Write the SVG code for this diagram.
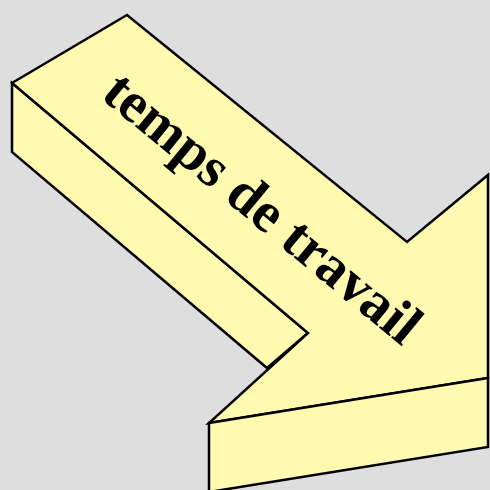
<svg xmlns="http://www.w3.org/2000/svg" width="490" height="490" viewBox="0 0 490 490">
<style>
.face{fill:#fffab0;stroke:#000;stroke-width:2.5;stroke-linejoin:miter}
.lbl{font-family:"Liberation Serif","Times New Roman",serif;font-weight:bold;font-size:57px;fill:#000}
</style>
<rect width="490" height="490" fill="#dedede"/>
<g id="arrow">
<polygon class="face" points="12,83 12,152 267,368 308,333"/>
<polygon class="face" points="12,83 127,15 407,242 488,175 488,378 209,423 308,333"/>
<polygon class="face" points="209,423 488,378 488,447 209,492"/>
</g>
<g id="label">
<text class="lbl" x="251" y="222" text-anchor="middle" transform="rotate(39.5 251 222)">temps de travail</text>
</g>
</svg>
